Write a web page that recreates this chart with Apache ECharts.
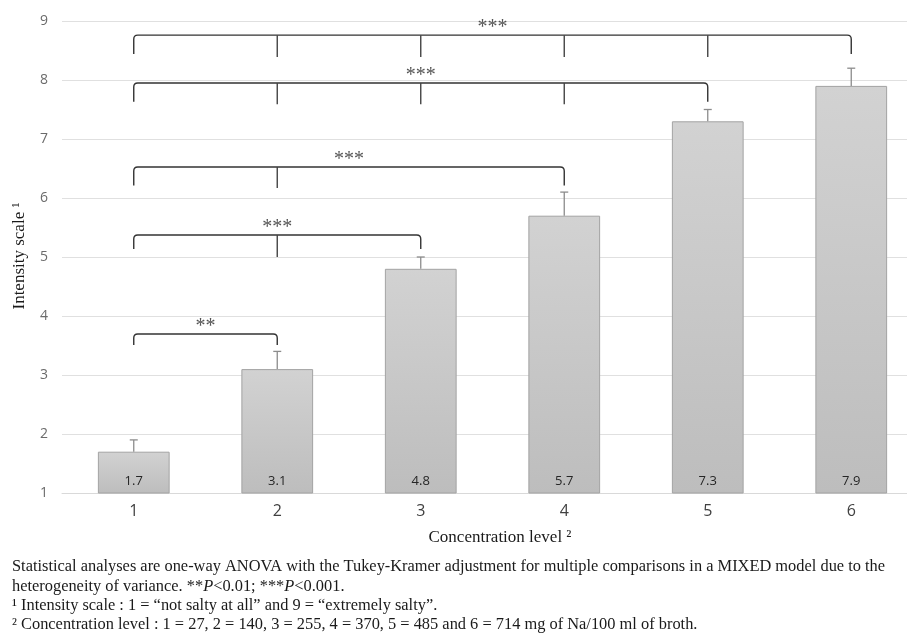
<!DOCTYPE html>
<html><head><meta charset="utf-8">
<script src="https://cdn.jsdelivr.net/npm/echarts@6/dist/echarts.min.js"></script>
<style>html,body{margin:0;padding:0;background:#fff}#c{width:907px;height:633px}</style>
</head><body><div id="c"></div>
<script>
// ---- data ----
const categories = ['1', '2', '3', '4', '5', '6'];
const means = [1.7, 3.1, 4.8, 5.7, 7.3, 7.9];
const errorTops = [1.9, 3.4, 5.0, 6.1, 7.5, 8.2];
const yTicks = [1, 2, 3, 4, 5, 6, 7, 8, 9];
// significance brackets: compare category 1 with each of the others
const bracketFrom = [0, 0, 0, 0, 0];
const bracketTo = [1, 2, 3, 4, 5];
const bracketTop = [3.695, 5.373, 6.525, 7.95, 8.76];
const bracketLeg = [3.508, 5.136, 6.21, 7.63, 8.44];
const bracketTickEnd = [null, 5.0, 6.17, 7.59, 8.39];
const bracketTickAt = [[], [1], [1], [1, 2, 3], [1, 2, 3, 4]];
const sigLabels = ['**', '***', '***', '***', '***'];

const chart = echarts.init(document.getElementById('c'), null, {renderer: 'canvas'});

const bracketData = bracketFrom.map((f, i) => [f, bracketTo[i], bracketTop[i], bracketLeg[i], bracketTickEnd[i], i]);

const serif = 'Liberation Serif';
const option = {
  animation: false,
  grid: {left: 62, width: 861, top: 21, height: 472, outerBoundsMode: 'none', containLabel: false},
  xAxis: {
    type: 'category', data: categories,
    axisLine: {show: true, lineStyle: {color: '#d9d9d9', width: 1}},
    axisTick: {show: false},
    axisLabel: {color: '#404040', fontSize: 16, margin: 10, fontFamily: 'Open Sans'}
  },
  yAxis: {
    type: 'value', min: yTicks[0], max: yTicks[yTicks.length - 1], interval: 1,
    axisLine: {show: false}, axisTick: {show: false},
    axisLabel: {color: '#6b6b6b', fontSize: 14, margin: 14, fontFamily: 'Open Sans'},
    splitLine: {lineStyle: {color: '#e0e0e0', width: 1}}
  },
  series: [
    {
      type: 'bar', data: means, barWidth: '50%',
      itemStyle: {
        borderColor: '#a3a3a3', borderWidth: 1,
        color: new echarts.graphic.LinearGradient(0, 0, 0, 1, [
          {offset: 0, color: '#d2d2d2'}, {offset: 1, color: '#bdbdbd'}])
      },
      label: {show: true, position: 'insideBottom', distance: 6, color: '#262626', fontSize: 13, fontFamily: 'Open Sans'},
      z: 2
    },
    {
      type: 'custom', z: 3,
      data: means.map((m, i) => [i, m, errorTops[i]]),
      renderItem: function (params, api) {
        const x = api.value(0);
        const p0 = api.coord([x, api.value(1)]);
        const p1 = api.coord([x, api.value(2)]);
        return {
          type: 'group', children: [
            {type: 'line', shape: {x1: p0[0], y1: p0[1], x2: p1[0], y2: p1[1]}, style: {stroke: '#8c8c8c', lineWidth: 1.3}},
            {type: 'line', shape: {x1: p1[0] - 4, y1: p1[1], x2: p1[0] + 4, y2: p1[1]}, style: {stroke: '#8c8c8c', lineWidth: 1.3}}
          ]
        };
      }
    },
    {
      type: 'custom', z: 4,
      data: bracketData,
      renderItem: function (params, api) {
        const a = api.value(0), b = api.value(1), top = api.value(2), leg = api.value(3), tickEnd = api.value(4);
        const idx = api.value(5);
        const pa = api.coord([a, top]), pb = api.coord([b, top]);
        const la = api.coord([a, leg]);
        const r = 4;
        const path = 'M' + pa[0] + ' ' + la[1] + ' L' + pa[0] + ' ' + (pa[1] + r) +
          ' Q' + pa[0] + ' ' + pa[1] + ' ' + (pa[0] + r) + ' ' + pa[1] +
          ' L' + (pb[0] - r) + ' ' + pb[1] +
          ' Q' + pb[0] + ' ' + pb[1] + ' ' + pb[0] + ' ' + (pb[1] + r) +
          ' L' + pb[0] + ' ' + la[1];
        const children = [{type: 'path', shape: {pathData: path}, style: {stroke: '#333', lineWidth: 1.4, fill: null}}];
        bracketTickAt[idx].forEach(c => {
          const t0 = api.coord([c, top]);
          const t1 = api.coord([c, tickEnd]);
          children.push({type: 'line', shape: {x1: t0[0], y1: t0[1], x2: t1[0], y2: t1[1]}, style: {stroke: '#444', lineWidth: 1.4}});
        });
        children.push({
          type: 'text',
          style: {text: sigLabels[idx], x: (pa[0] + pb[0]) / 2, y: pa[1] - 7.5, align: 'center', verticalAlign: 'middle',
            fill: '#555', fontSize: 20, fontFamily: serif}
        });
        return {type: 'group', children: children};
      }
    }
  ],
  graphic: [
    {type: 'text', rotation: Math.PI / 2, x: 20, y: 256,
      style: {text: 'Intensity scale \u00b9', fontSize: 17, fontFamily: serif, fill: '#1a1a1a', align: 'center', verticalAlign: 'middle'}},
    {type: 'text', x: 500, y: 538,
      style: {text: 'Concentration level \u00b2', fontSize: 17, fontFamily: serif, fill: '#1a1a1a', align: 'center', verticalAlign: 'middle'}},
    {type: 'text', x: 12, y: 567,
      style: {text: 'Statistical analyses are one-way ANOVA with the Tukey-Kramer adjustment for multiple comparisons in a MIXED model due to the',
        fontSize: 16.4, fontFamily: serif, fill: '#1a1a1a', verticalAlign: 'middle'}},
    {type: 'text', x: 12, y: 587,
      style: {text: 'heterogeneity of variance. **{i|P}<0.01; ***{i|P}<0.001.',
        fontSize: 16.4, fontFamily: serif, fill: '#1a1a1a', verticalAlign: 'middle',
        rich: {i: {fontStyle: 'italic', fontSize: 16.4, fontFamily: serif, fill: '#1a1a1a'}}}},
    {type: 'text', x: 12, y: 606,
      style: {text: '\u00b9 Intensity scale : 1 = \u201cnot salty at all\u201d and 9 = \u201cextremely salty\u201d.',
        fontSize: 16.4, fontFamily: serif, fill: '#1a1a1a', verticalAlign: 'middle'}},
    {type: 'text', x: 12, y: 625,
      style: {text: '\u00b2 Concentration level : 1 = 27, 2 = 140, 3 = 255, 4 = 370, 5 = 485 and 6 = 714 mg of Na/100 ml of broth.',
        fontSize: 16.4, fontFamily: serif, fill: '#1a1a1a', verticalAlign: 'middle'}}
  ]
};
chart.setOption(option);
</script></body></html>
